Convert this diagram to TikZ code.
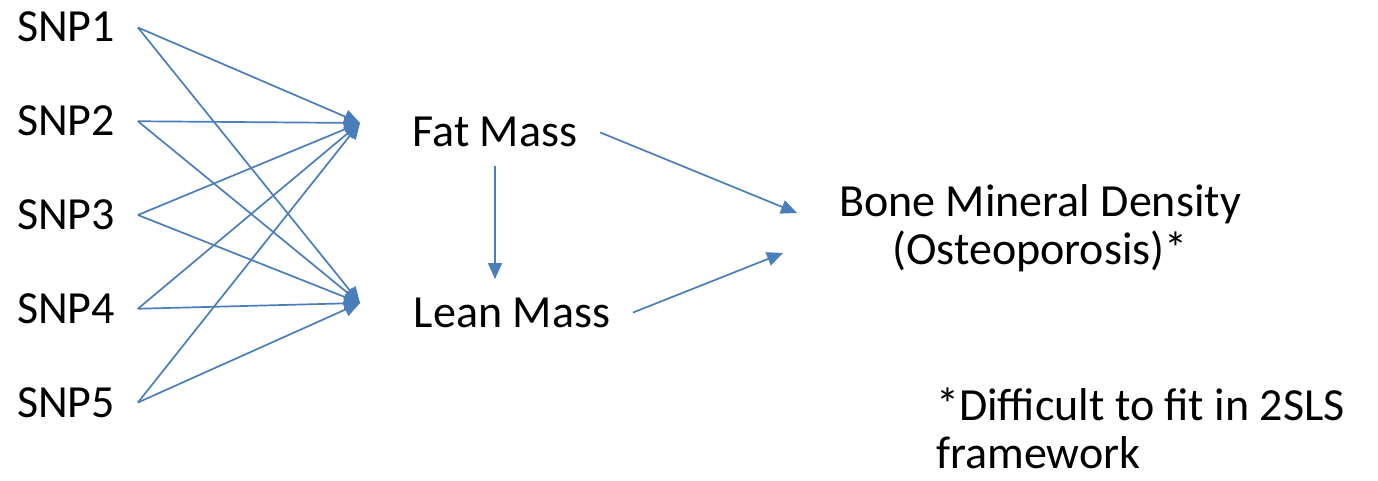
\documentclass[tikz,border=0pt]{standalone}
\usepackage{fontspec}
\setmainfont{Carlito}
\usetikzlibrary{arrows.meta}
\definecolor{linkblue}{RGB}{74,126,187}

\begin{document}
\begin{tikzpicture}[x=1pt,y=-1pt,every node/.style={font=\fontsize{46}{48}\selectfont,inner sep=0pt},
		lbl/.style={text height=29pt,text depth=0pt,outer xsep=23pt,outer ysep=19pt},
		link/.style={draw=linkblue,line width=1.7pt,-{Triangle[length=16pt,width=14pt]},fill=linkblue}]
		\useasboundingbox (0,0) rectangle (1378,481); % page size
		\foreach \i in {1,...,5}
			\node[lbl,anchor=west] (snp\i) at (-6,{27.5+93.75*(\i-1)}) {SNP\i};
		\node[lbl,anchor=base] (fat) at (495,147) {Fat Mass};
		\node[lbl,anchor=base] (lean) at (512,327) {Lean Mass};
		\node[align=center,anchor=base] (bmd) at (1040,264) {Bone Mineral Density \\ (Osteoporosis)*}; % base = last line
		\node[align=left,anchor=base west] (note) at (936,468) {*Difficult to fit in 2SLS \\ framework};
		\coordinate (fatin) at (360,123); % arrow tips left of the exposures
		\coordinate (leanin) at (360,303);
		\coordinate (bmdtop) at (797,213);
		\coordinate (bmdlow) at (783,253);
		\foreach \i in {1,...,5} {
			\draw[link] (snp\i.east) -- (fatin);
			\draw[link] (snp\i.east) -- (leanin);
		}
		\draw[link] (fat.south) -- (fat.south |- lean.north);
		\draw[link] (fat.east) -- (bmdtop);
		\draw[link] (lean.east) -- (bmdlow);
	\end{tikzpicture}
\end{document}
